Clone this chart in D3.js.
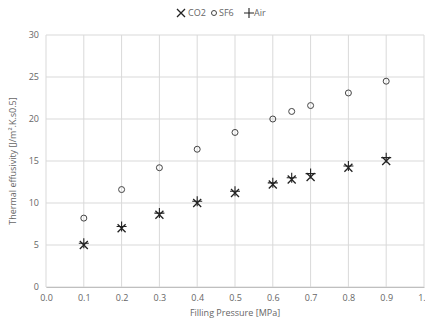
<!DOCTYPE html>
<html>
<head>
<meta charset="utf-8">
<script src="https://cdn.jsdelivr.net/npm/d3@7"></script>
<style>
  body { margin: 0; background: #fff; }
  text { font-family: "Open Sans", "Liberation Sans", sans-serif; fill: #666; }
</style>
</head>
<body>
<div id="chart"></div>
<script>
var pressure = [0.1, 0.2, 0.3, 0.4, 0.5, 0.6, 0.65, 0.7, 0.8, 0.9];
var co2 = [5.0, 7.0, 8.6, 10.0, 11.2, 12.2, 12.8, 13.1, 14.2, 15.0];
var sf6 = [8.2, 11.6, 14.2, 16.4, 18.4, 20.0, 20.9, 21.6, 23.1, 24.5];
var air = [5.2, 7.2, 8.8, 10.2, 11.4, 12.4, 13.0, 13.5, 14.4, 15.4];
var xTicks = [0, 0.1, 0.2, 0.3, 0.4, 0.5, 0.6, 0.7, 0.8, 0.9, 1.0];
var yTicks = [0, 5, 10, 15, 20, 25, 30];

var width = 425, height = 324;
var margin = { left: 46, right: 1, top: 35, bottom: 37 };

var svg = d3.select("#chart").append("svg")
	.attr("width", width)
	.attr("height", height);

var x = d3.scaleLinear().domain([0, 1]).range([margin.left, width - margin.right]);
var y = d3.scaleLinear().domain([0, 30]).range([height - margin.bottom, margin.top]);

// grid
svg.append("g").selectAll("line")
	.data(xTicks)
	.enter().append("line")
	.attr("x1", d => x(d)).attr("x2", d => x(d))
	.attr("y1", y(30)).attr("y2", y(0))
	.attr("stroke", "#d9d9d9").attr("stroke-width", 1);

svg.append("g").selectAll("line")
	.data(yTicks)
	.enter().append("line")
	.attr("x1", x(0)).attr("x2", x(1))
	.attr("y1", d => y(d)).attr("y2", d => y(d))
	.attr("stroke", "#d9d9d9").attr("stroke-width", 1);

// axes
var xAxis = svg.append("g")
	.attr("transform", "translate(0," + y(0) + ")")
	.call(d3.axisBottom(x).tickValues(xTicks).tickFormat(d3.format(".1f")).tickSize(0).tickPadding(8));
xAxis.select(".domain").attr("stroke", "#bfbfbf");
xAxis.selectAll("text").style("font-size", "9px").attr("fill", "#666");

var yAxis = svg.append("g")
	.attr("transform", "translate(" + x(0) + ",0)")
	.call(d3.axisLeft(y).tickValues(yTicks).tickSize(0).tickPadding(7));
yAxis.select(".domain").remove();
yAxis.selectAll("text").style("font-size", "9px").attr("fill", "#666");

// axis titles
svg.append("text")
	.attr("x", (x(0) + x(1)) / 2)
	.attr("y", 316)
	.attr("text-anchor", "middle")
	.style("font-size", "9px")
	.text("Filling Pressure [MPa]");

svg.append("text")
	.attr("transform", "translate(16," + (y(15)) + ") rotate(-90)")
	.attr("text-anchor", "middle")
	.style("font-size", "9px")
	.text("Thermal effusivity [J/m\u00B2.K.s0.5]");

// markers
var sym = 4;
function cross(g, cx, cy) {
	g.append("path")
		.attr("d", "M" + (cx - sym) + "," + (cy - sym) + "L" + (cx + sym) + "," + (cy + sym) +
			"M" + (cx - sym) + "," + (cy + sym) + "L" + (cx + sym) + "," + (cy - sym))
		.attr("stroke", "#222").attr("stroke-width", 1.3).attr("fill", "none");
}
function plus(g, cx, cy) {
	var s = 5;
	g.append("path")
		.attr("d", "M" + (cx - s) + "," + cy + "L" + (cx + s) + "," + cy +
			"M" + cx + "," + (cy - s) + "L" + cx + "," + (cy + s))
		.attr("stroke", "#222").attr("stroke-width", 1.1).attr("fill", "none");
}

var marks = svg.append("g");
pressure.forEach(function (p, i) {
	marks.append("circle")
		.attr("cx", x(p)).attr("cy", y(sf6[i])).attr("r", 3)
		.attr("fill", "none").attr("stroke", "#444").attr("stroke-width", 1);
	cross(marks, x(p), y(co2[i]));
	plus(marks, x(p), y(air[i]));
});

// legend
var lg = svg.append("g").attr("transform", "translate(0,13)");
cross(lg, 181, 0);
lg.append("text").attr("x", 188).attr("y", 3).style("font-size", "9px").text("CO2");
lg.append("circle").attr("cx", 214).attr("cy", 0).attr("r", 2.5)
	.attr("fill", "none").attr("stroke", "#444").attr("stroke-width", 1);
lg.append("text").attr("x", 219).attr("y", 3).style("font-size", "9px").text("SF6");
plus(lg, 249, 0);
lg.append("text").attr("x", 254).attr("y", 3).style("font-size", "9px").text("Air");
</script>
</body>
</html>
